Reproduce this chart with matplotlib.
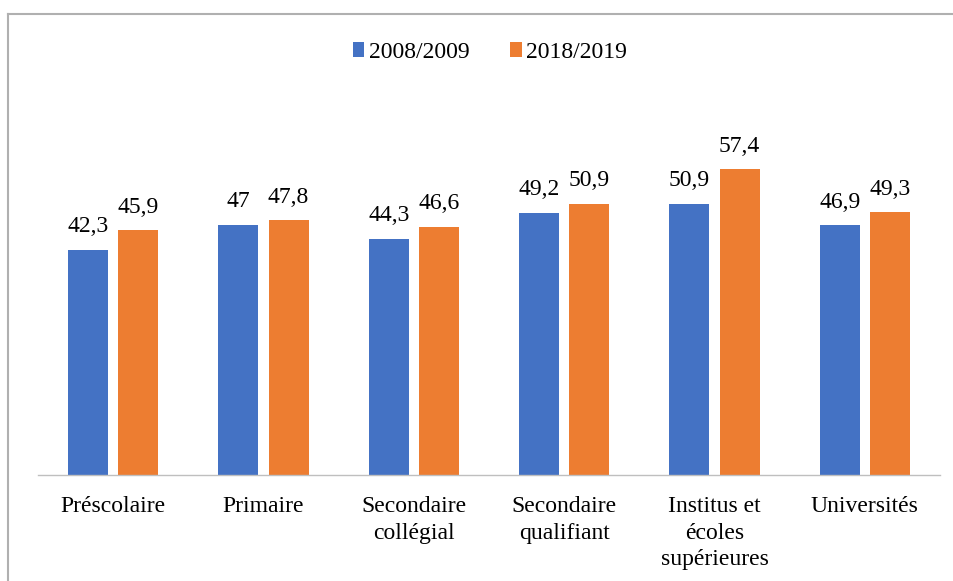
import matplotlib
matplotlib.use("Agg")
import matplotlib.pyplot as plt
from matplotlib.lines import Line2D
import numpy as np

categories = [
    "Préscolaire",
    "Primaire",
    "Secondaire\ncollégial",
    "Secondaire\nqualifiant",
    "Institus et\nécoles\nsupérieures",
    "Universités",
]
series_names = ["2008/2009", "2018/2019"]
values_2008 = [42.3, 47.0, 44.3, 49.2, 50.9, 46.9]
values_2018 = [45.9, 47.8, 46.6, 50.9, 57.4, 49.3]

colors = ["#4472C4", "#ED7D31"]

plt.rcParams["font.family"] = ["Liberation Serif", "DejaVu Serif"]

W, H = 954, 581
fig = plt.figure(figsize=(W / 100, H / 100), dpi=100)
ax = fig.add_axes([38 / W, 1 - 475 / H, 902 / W, 373 / H])

x = np.arange(len(categories))
width = 40 / 150.33
offset = 25 / 150.33


def fmt(v):
    s = f"{v:.1f}"
    if s.endswith(".0"):
        s = s[:-2]
    return s.replace(".", ",")


bars = []
for vals, off, col, name in zip([values_2008, values_2018], [-offset, offset], colors, series_names):
    b = ax.bar(x + off, vals, width, color=col, label=name)
    bars.append(b)
    for rect, v in zip(b, vals):
        ax.annotate(fmt(v), (rect.get_x() + rect.get_width() / 2, v),
                    xytext=(0, 9), textcoords="offset points",
                    ha="center", va="bottom", fontsize=17)

ax.set_xlim(-0.5, len(categories) - 0.5)
ax.set_ylim(0, 70)
ax.set_xticks(x)
ax.set_xticklabels(categories, fontsize=17, linespacing=1.36)
ax.tick_params(axis="x", length=0, pad=15)
ax.set_yticks([])
for side in ["top", "right", "left"]:
    ax.spines[side].set_visible(False)
ax.spines["bottom"].set_color("#bfbfbf")
ax.spines["bottom"].set_linewidth(1.0)

leg = fig.legend(handles=bars, labels=series_names, loc="center",
                 bbox_to_anchor=(490 / W, 1 - 52 / H), ncol=2, frameon=False,
                 fontsize=17, handlelength=0.5, handleheight=0.6,
                 handletextpad=0.2, columnspacing=1.7)

# outer frame (top and left edges only)
fig.add_artist(Line2D([8.5 / W, 1], [1 - 14 / H, 1 - 14 / H], color="#b0b0b0", lw=1.5))
fig.add_artist(Line2D([8.5 / W, 8.5 / W], [0, 1 - 14 / H], color="#b0b0b0", lw=1.5))

fig.savefig("out.png", dpi=100)
